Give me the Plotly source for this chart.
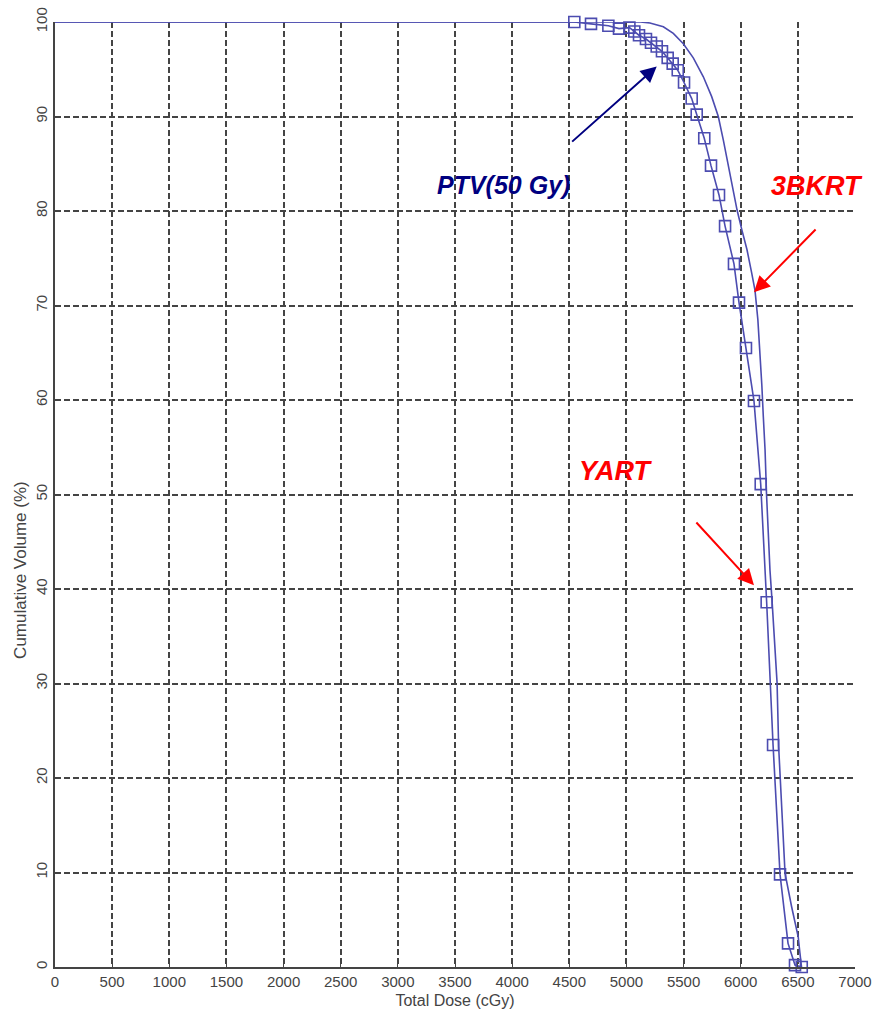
import plotly.graph_objects as go

# YART dose-volume histogram (open squares joined by a line)
yart_dose = [4544, 4690, 4842, 4935, 5026, 5069, 5110, 5171, 5215, 5265, 5311,
             5361, 5405, 5449, 5504, 5571, 5615, 5681, 5740, 5810, 5863, 5941,
             5985, 6046, 6116, 6175, 6227, 6283, 6344, 6414, 6475, 6534]
yart_vol = [100.0, 99.8, 99.6, 99.3, 99.4, 99.0, 98.6, 98.2, 97.8, 97.4, 96.9,
            96.2, 95.6, 94.9, 93.6, 91.9, 90.2, 87.7, 84.8, 81.7, 78.4, 74.4,
            70.3, 65.5, 59.9, 51.1, 38.6, 23.5, 9.8, 2.5, 0.2, 0.0]

# 3BKRT dose-volume histogram (plain line)
bkrt_dose = [0, 5122, 5206, 5323, 5410, 5498, 5585, 5673, 5746, 5804, 5848, 5890,
             5935, 5968, 6010, 6055, 6095, 6125, 6150, 6169, 6185, 6198, 6213,
             6226, 6239, 6256, 6274, 6296, 6318, 6332, 6360, 6388, 6445,
             6503, 6518, 6532]
bkrt_vol = [100, 100, 99.9, 99.5, 98.8, 97.7, 96.2, 94.2, 92.1, 90.0, 87.5, 84.8,
            82.0, 80.1, 78.0, 75.9, 73.5, 71.6, 68.5, 65.3, 61.5, 58.2, 54.7,
            50.0, 45.9, 42.0, 38.8, 34.5, 30.1, 23.3, 16.3, 9.9, 6.4,
            3.2, 1.5, 0.0]

x_ticks = list(range(0, 7001, 500))
y_ticks = list(range(0, 101, 10))

curve_color = "#4c4cb0"
font_family = "Liberation Sans, Arial, sans-serif"

fig = go.Figure()
fig.add_trace(go.Scatter(
    x=bkrt_dose, y=bkrt_vol, mode="lines",
    line=dict(color=curve_color, width=1.6), cliponaxis=False,
    name="3BKRT"))
# YART line starts on the 100 % plateau at zero dose
fig.add_trace(go.Scatter(
    x=[0] + yart_dose, y=[100] + yart_vol, mode="lines",
    line=dict(color=curve_color, width=1.6), cliponaxis=False,
    name="YART"))
fig.add_trace(go.Scatter(
    x=yart_dose, y=yart_vol, mode="markers",
    marker=dict(symbol="square-open", size=11, color=curve_color,
                line=dict(width=1.6, color=curve_color)),
    cliponaxis=False, name="YART points"))

label_font = dict(family=font_family, weight="bold", style="italic")

fig.add_annotation(x=3920, y=82.7, text="PTV(50 Gy)", showarrow=False,
                   font=dict(label_font, color="#000080", size=25))
fig.add_annotation(x=6668, y=82.6, text="3BKRT", showarrow=False,
                   font=dict(label_font, color="#ff0000", size=27))
fig.add_annotation(x=4909, y=52.5, text="YART", showarrow=False,
                   font=dict(label_font, color="#ff0000", size=27))

arrows = [
    (5265, 95.3, 4512, 87.2, "#000080"),
    (6116, 71.4, 6668, 78.2, "#ff0000"),
    (6116, 40.4, 5600, 47.2, "#ff0000"),
]
for tx, ty, sx, sy, col in arrows:
    fig.add_annotation(x=tx, y=ty, ax=sx, ay=sy, xref="x", yref="y",
                       axref="x", ayref="y", text="", showarrow=True,
                       arrowhead=2, arrowsize=1.6, arrowwidth=2,
                       arrowcolor=col, standoff=0)

fig.add_annotation(xref="paper", yref="paper", x=-0.044, y=0.42,
                   xanchor="center", yanchor="middle",
                   text="Cumulative Volume (%)", showarrow=False, textangle=-90,
                   font=dict(family=font_family, size=17, color="#444"))

axis_common = dict(
    showgrid=True, gridcolor="#444", gridwidth=1.7, griddash="6px,3px",
    zeroline=False, showline=True, linecolor="#444", linewidth=1.5,
    ticks="inside", ticklen=5, tickcolor="#444", tickwidth=1.2,
    automargin=False,
    tickfont=dict(family=font_family, size=15, color="#444"),
)

fig.update_layout(
    width=873, height=1027,
    margin=dict(l=55, r=18, t=22, b=60),
    paper_bgcolor="white", plot_bgcolor="white",
    showlegend=False,
    xaxis=dict(axis_common, range=[0, 7000], tickvals=x_ticks,
               title=dict(text="Total Dose (cGy)", standoff=6,
                          font=dict(family=font_family, size=16, color="#444"))),
    yaxis=dict(axis_common, range=[0, 100], tickvals=y_ticks, tickangle=-90),
)

fig.write_html("out.html")
